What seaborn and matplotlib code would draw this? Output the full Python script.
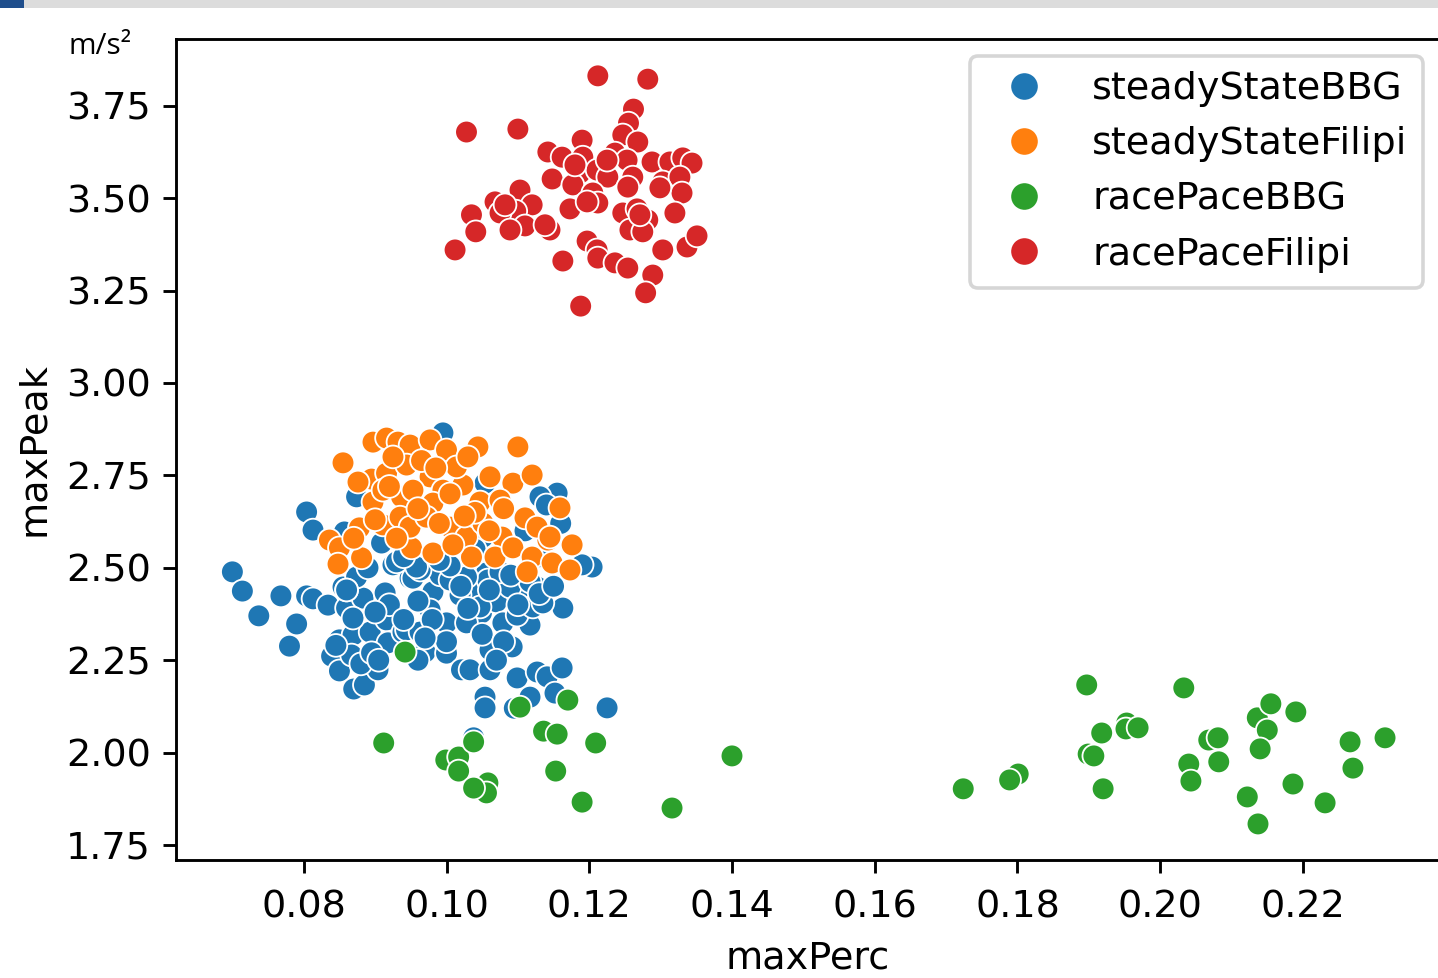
import matplotlib

matplotlib.use("Agg")

import matplotlib.pyplot as plt
import pandas as pd
import seaborn as sns
from matplotlib.patches import Rectangle

GROUPS = ["steadyStateBBG", "steadyStateFilipi", "racePaceBBG", "racePaceFilipi"]

steady_bbg_perc = [
    0.0700, 0.0714, 0.0737, 0.0768, 0.0790, 0.0780, 0.0804, 0.0813, 0.0834, 0.0855,
    0.0860, 0.0876, 0.0883, 0.0914, 0.0925, 0.0949, 0.0850, 0.0869, 0.0839, 0.0850,
    0.0867, 0.0870, 0.0885, 0.0904, 0.0893, 0.0916, 0.0918, 0.0939, 0.0869, 0.0804,
    0.0813, 0.0857, 0.0874, 0.0860, 0.0930, 0.0953, 0.0909, 0.0981, 0.0991, 0.1021,
    0.0977, 0.1000, 0.1049, 0.1070, 0.1106, 0.1127, 0.1163, 0.0944, 0.0963, 0.1028,
    0.1079, 0.1117, 0.0970, 0.1000, 0.1061, 0.1092, 0.1021, 0.1033, 0.1061, 0.1099,
    0.1127, 0.1141, 0.1162, 0.1054, 0.1054, 0.1117, 0.1152, 0.1225, 0.1037, 0.1089,
    0.1056, 0.1009, 0.0963, 0.1099, 0.1121, 0.0995, 0.1155, 0.1131, 0.1204, 0.1190,
    0.1019, 0.1047, 0.1135, 0.1117, 0.1058, 0.1005, 0.1028, 0.0958, 0.1005, 0.1075,
    0.0874, 0.1054, 0.1051, 0.1038, 0.1095, 0.0920, 0.0960, 0.0980, 0.1030, 0.1050,
    0.1080, 0.0940, 0.0900, 0.1000, 0.0970, 0.1020, 0.1060, 0.1100, 0.1130, 0.1150,
    0.1090, 0.0990, 0.1040, 0.0940, 0.0890, 0.0860, 0.1130, 0.1160, 0.1140, 0.1110,
    0.0880, 0.0895, 0.0845, 0.0905, 0.0960, 0.1070,
]
steady_bbg_peak = [
    2.489, 2.437, 2.370, 2.424, 2.348, 2.288, 2.424, 2.416, 2.399, 2.448,
    2.391, 2.481, 2.418, 2.432, 2.508, 2.472, 2.305, 2.318, 2.261, 2.221,
    2.264, 2.172, 2.183, 2.224, 2.326, 2.359, 2.297, 2.326, 2.364, 2.651,
    2.602, 2.597, 2.475, 2.440, 2.516, 2.472, 2.567, 2.435, 2.481, 2.421,
    2.386, 2.351, 2.378, 2.408, 2.418, 2.448, 2.391, 2.332, 2.326, 2.351,
    2.351, 2.345, 2.272, 2.269, 2.278, 2.286, 2.224, 2.224, 2.224, 2.202,
    2.218, 2.205, 2.229, 2.150, 2.121, 2.150, 2.161, 2.121, 2.440, 2.448,
    2.486, 2.494, 2.494, 2.372, 2.394, 2.865, 2.702, 2.692, 2.502, 2.508,
    2.426, 2.394, 2.405, 2.462, 2.467, 2.467, 2.475, 2.502, 2.505, 2.489,
    2.692, 2.729, 2.583, 2.040, 2.120, 2.400, 2.410, 2.360, 2.390, 2.320,
    2.300, 2.360, 2.380, 2.300, 2.310, 2.450, 2.440, 2.400, 2.430, 2.450,
    2.480, 2.520, 2.550, 2.530, 2.500, 2.440, 2.530, 2.620, 2.670, 2.600,
    2.240, 2.270, 2.290, 2.250, 2.250, 2.250,
]

steady_filipi_perc = [
    0.0897, 0.0916, 0.0932, 0.0855, 0.0940, 0.0951, 0.0895, 0.0876, 0.0916, 0.0951,
    0.0897, 0.0911, 0.0937, 0.0878, 0.0911, 0.0947, 0.0935, 0.0836, 0.0850, 0.0881,
    0.0848, 0.0951, 0.0949, 0.0977, 0.1000, 0.1044, 0.1100, 0.0944, 0.0977, 0.0995,
    0.0953, 0.1023, 0.1093, 0.1120, 0.1047, 0.1075, 0.1110, 0.1159, 0.0981, 0.0949,
    0.1005, 0.0972, 0.1028, 0.1078, 0.1142, 0.1176, 0.0981, 0.1035, 0.1068, 0.1093,
    0.1120, 0.1148, 0.1173, 0.1113, 0.1009, 0.1051, 0.1014, 0.1061, 0.1127, 0.1145,
    0.0925, 0.0965, 0.1030, 0.0985, 0.0920, 0.1005, 0.0960, 0.1040, 0.0900, 0.0990,
    0.1060, 0.0870, 0.0930, 0.1080, 0.1025,
]
steady_filipi_peak = [
    2.840, 2.851, 2.840, 2.784, 2.778, 2.813, 2.740, 2.732, 2.756, 2.705,
    2.678, 2.710, 2.692, 2.608, 2.616, 2.610, 2.637, 2.575, 2.554, 2.527,
    2.510, 2.554, 2.832, 2.846, 2.819, 2.827, 2.827, 2.778, 2.746, 2.710,
    2.710, 2.724, 2.729, 2.751, 2.678, 2.683, 2.635, 2.662, 2.675, 2.610,
    2.610, 2.637, 2.583, 2.583, 2.575, 2.562, 2.540, 2.529, 2.529, 2.554,
    2.529, 2.513, 2.494, 2.489, 2.562, 2.621, 2.773, 2.746, 2.610, 2.583,
    2.800, 2.790, 2.800, 2.770, 2.720, 2.700, 2.660, 2.650, 2.630, 2.620,
    2.600, 2.580, 2.580, 2.660, 2.640,
]

race_bbg_perc = [
    0.0912, 0.0999, 0.1017, 0.1017, 0.1038, 0.1058, 0.1056, 0.1038, 0.1103, 0.1136,
    0.1155, 0.1170, 0.1209, 0.1153, 0.1190, 0.1316, 0.1400, 0.0942, 0.1724, 0.1801,
    0.1789, 0.1897, 0.1918, 0.1953, 0.1952, 0.1969, 0.1899, 0.1907, 0.1920, 0.2033,
    0.2068, 0.2081, 0.2040, 0.2043, 0.2082, 0.2136, 0.2155, 0.2150, 0.2140, 0.2190,
    0.2122, 0.2137, 0.2186, 0.2231, 0.2266, 0.2270, 0.2315,
]
race_bbg_peak = [
    2.026, 1.980, 1.988, 1.950, 2.029, 1.918, 1.891, 1.904, 2.123, 2.058,
    2.050, 2.142, 2.026, 1.950, 1.866, 1.850, 1.991, 2.272, 1.902, 1.942,
    1.926, 2.183, 2.053, 2.080, 2.064, 2.067, 1.996, 1.991, 1.902, 2.175,
    2.034, 2.040, 1.969, 1.923, 1.975, 2.094, 2.132, 2.061, 2.010, 2.110,
    1.880, 1.807, 1.915, 1.864, 2.029, 1.958, 2.040,
]

race_filipi_perc = [
    0.1212, 0.1282, 0.1028, 0.1100, 0.1262, 0.1255, 0.1247, 0.1268, 0.1190, 0.1142,
    0.1162, 0.1191, 0.1236, 0.1253, 0.1288, 0.1313, 0.1331, 0.1344, 0.1187, 0.1211,
    0.1226, 0.1148, 0.1261, 0.1303, 0.1327, 0.1177, 0.1205, 0.1254, 0.1330, 0.1103,
    0.1068, 0.1120, 0.1097, 0.1173, 0.1212, 0.1197, 0.1247, 0.1267, 0.1282, 0.1320,
    0.1035, 0.1075, 0.1110, 0.1089, 0.1145, 0.1041, 0.1257, 0.1275, 0.1012, 0.1197,
    0.1211, 0.1163, 0.1212, 0.1236, 0.1254, 0.1303, 0.1337, 0.1351, 0.1289, 0.1279,
    0.1188, 0.1225, 0.1180, 0.1271, 0.1299, 0.1138, 0.1082,
]
race_filipi_peak = [
    3.831, 3.822, 3.679, 3.687, 3.741, 3.703, 3.671, 3.652, 3.657, 3.625,
    3.611, 3.611, 3.622, 3.603, 3.598, 3.598, 3.609, 3.595, 3.568, 3.576,
    3.557, 3.552, 3.557, 3.544, 3.557, 3.536, 3.514, 3.530, 3.514, 3.522,
    3.490, 3.482, 3.465, 3.471, 3.487, 3.490, 3.460, 3.471, 3.441, 3.460,
    3.455, 3.460, 3.425, 3.414, 3.414, 3.409, 3.414, 3.409, 3.360, 3.384,
    3.360, 3.330, 3.338, 3.325, 3.311, 3.360, 3.368, 3.398, 3.292, 3.244,
    3.208, 3.603, 3.590, 3.455, 3.528, 3.428, 3.482,
]


def build_frame() -> pd.DataFrame:
    parts = []
    for name, perc, peak in [
        (GROUPS[0], steady_bbg_perc, steady_bbg_peak),
        (GROUPS[1], steady_filipi_perc, steady_filipi_peak),
        (GROUPS[2], race_bbg_perc, race_bbg_peak),
        (GROUPS[3], race_filipi_perc, race_filipi_peak),
    ]:
        parts.append(pd.DataFrame({"maxPerc": perc, "maxPeak": peak, "group": name}))
    return pd.concat(parts, ignore_index=True)


frame = build_frame()

plt.rcParams["font.size"] = 10.6

dpi = 259
fig = plt.figure(figsize=(1438 / dpi, 978 / dpi), dpi=dpi)
ax = fig.add_axes([176 / 1438, 1 - 860 / 978, 1264 / 1438, 821 / 978])

sns.scatterplot(data=frame, x="maxPerc", y="maxPeak", hue="group", hue_order=GROUPS, s=40, ax=ax)
ax.set_xlim(0.0621, 0.2392)
ax.set_ylim(1.7094, 3.9307)
ax.set_yticks([1.75, 2.00, 2.25, 2.50, 2.75, 3.00, 3.25, 3.50, 3.75])
ax.tick_params(axis="x", pad=4.8)
sns.move_legend(ax, "upper right", title=None, markerscale=1.25, borderaxespad=0.45)

fig.text(100 / 1438, 1 - 47 / 978, "m/s²", ha="center", va="center", fontsize=8.3, family="Open Sans")

# screenshot frame strip along the top edge
fig.add_artist(Rectangle((0, 1 - 8 / 978), 1, 8 / 978, transform=fig.transFigure, color="#dcdcdc", lw=0))
fig.add_artist(Rectangle((0, 1 - 8 / 978), 24 / 1438, 8 / 978, transform=fig.transFigure, color="#1f4e8c", lw=0))

fig.savefig("out.png", dpi=dpi)
plt.close(fig)
